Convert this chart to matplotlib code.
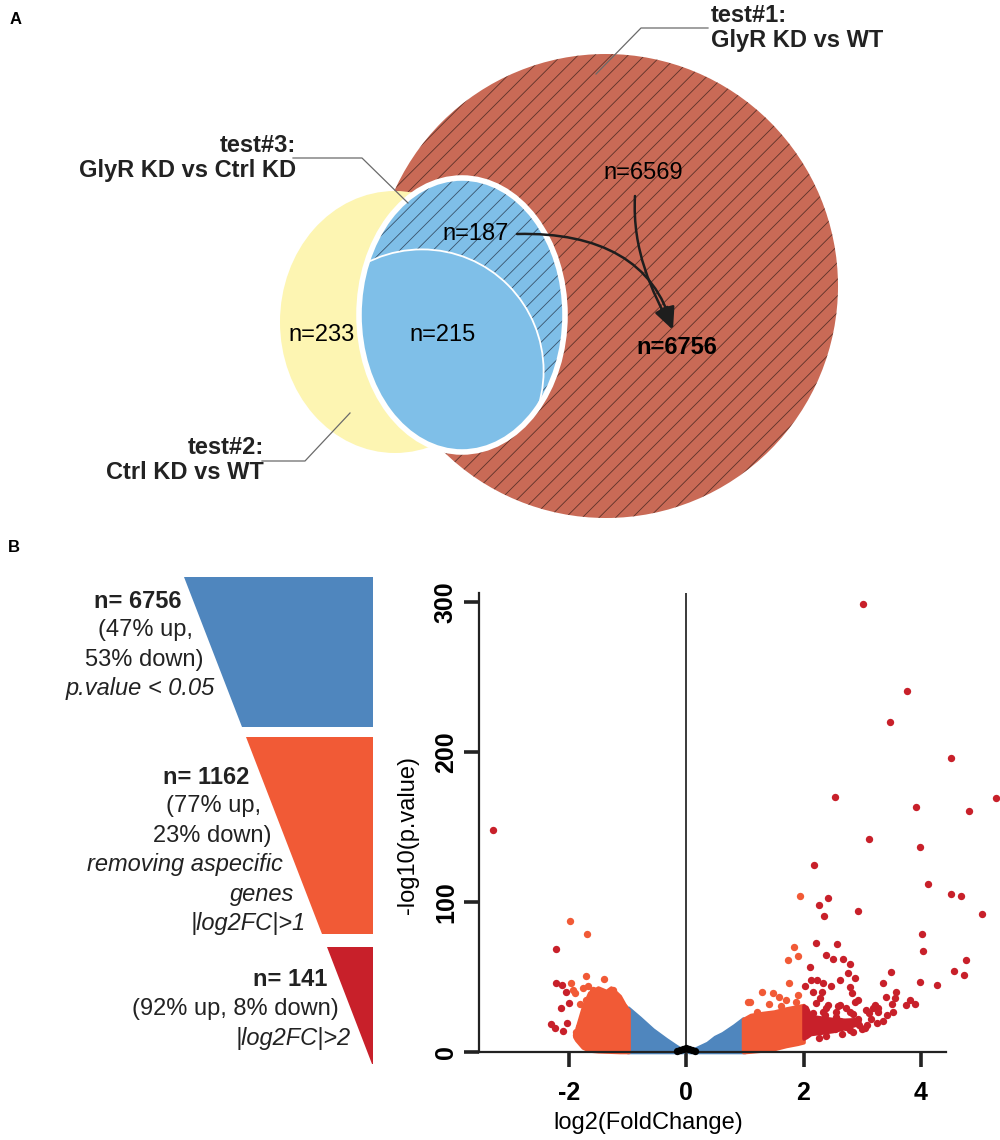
import matplotlib
matplotlib.use("Agg")
import matplotlib.pyplot as plt
from matplotlib import font_manager
from matplotlib.patches import Circle, Ellipse, Polygon, FancyArrowPatch
from matplotlib.path import Path


# ── Data ──────────────────────────────────────────────────────────────────────

# panel A: overlap of the three DE tests
venn_titles = ["test#1:\nGlyR KD vs WT", "test#2:\nCtrl KD vs WT", "test#3:\nGlyR KD vs Ctrl KD"]
n_test1_only = 6569
n_test2_only = 233
n_test2_test3 = 215
n_test1_test3 = 187
n_final = 6756

# panel B: filtering funnel
funnel_n = [6756, 1162, 141]
funnel_up = [47, 77, 92]
funnel_down = [53, 23, 8]
funnel_filter = ["p.value < 0.05", "removing aspecific\ngenes\n|log2FC|>1", "|log2FC|>2"]

# panel B: volcano plot, dense parts as envelopes (x, lower, upper)
blue_left_x = [-1.0, -0.99, -0.79, -0.57, -0.34, -0.17, -0.06]
blue_left_top = [29, 29.6, 22.9, 15.1, 8.5, 4, 1.3]
blue_right_x = [0.05, 0.16, 0.36, 0.49, 0.62, 0.82, 0.97, 1.0]
blue_right_top = [0.5, 2.3, 6, 10, 12.5, 17.8, 22.3, 22]

orange_left_x = [-1.90, -1.87, -1.76, -1.65, -1.50, -1.36, -1.28, -1.13, -1.02, -0.98]
orange_left_bot = [10, 8, 3, 1, 0.5, 0.3, 0.2, 0, 0, 0]
orange_left_top = [12, 15, 29.6, 39.6, 43, 40.7, 43, 37.4, 29.6, 28]

orange_right_x = [0.97, 1.0, 1.1, 1.3, 1.5, 1.7, 1.9, 2.0]
orange_right_bot = [0, 0, 0.3, 1, 2, 4, 5.5, 6.5]
orange_right_top = [22, 22.5, 24.7, 26, 27, 29, 30.5, 31.3]

red_right_x = [2.0, 2.05, 2.12, 2.3, 2.5, 2.7, 2.95]
red_right_bot = [9, 10, 12, 12.9, 14, 16, 19]
red_right_top = [31, 30, 24, 23, 22, 21.5, 22]

# single genes
zero_x = [-0.15, -0.1, -0.05, 0.0, 0.05, 0.1, 0.15]
zero_y = [0.6, 1.0, 1.8, 2.5, 1.8, 1.0, 0.6]

pts_orange_left_x = [-1.98, -1.69, -1.70, -1.39, -1.96, -1.93, -1.76, -1.67, -1.59, -1.50,
                     -1.42, -1.25, -1.19, -1.05, -1.70, -1.87, -1.77, -1.71, -1.80, -1.90,
                     -1.88, -1.82]
pts_orange_left_y = [87.5, 78.5, 51, 48.6, 46.3, 41.4, 42.5, 44.1, 41.4, 40.3,
                     36.9, 41.4, 36.9, 30.3, 34.7, 11.3, 19.5, 28, 31.9, 39.4,
                     13.6, 16.9]

pts_red_left_x = [-3.29, -2.21, -2.21, -2.11, -2.05, -2.00, -2.13, -2.30, -2.24, -2.10,
                  -2.03]
pts_red_left_y = [148, 69, 45.9, 44.8, 40.3, 32.9, 29.2, 18.7, 15.8, 14.2, 19.6]

pts_orange_right_x = [1.94, 1.83, 1.74, 1.91, 1.76, 1.30, 1.48, 1.05, 1.91, 1.59,
                      1.71, 1.08, 1.61, 1.41, 1.21, 1.87]
pts_orange_right_y = [104, 70, 61.5, 64.3, 45.9, 40.3, 39.2, 33.6, 38.1, 36.9,
                      34.7, 33.1, 30.7, 31.9, 26.9, 33.1]

pts_red_right_x = [3.02, 3.77, 3.48, 4.51, 2.53, 5.27, 3.92, 4.82, 3.11, 3.98,
                   2.17, 4.12, 4.51, 4.69, 2.41, 2.26, 2.35, 2.92, 5.04, 4.01,
                   4.04, 2.21, 2.57, 4.76, 2.39, 2.50, 2.67, 2.79, 2.11, 2.76,
                   3.49, 4.56, 4.74, 2.13, 2.23, 2.33, 2.62, 2.87, 2.02, 2.46,
                   2.80, 3.35, 3.98, 4.28, 2.16, 2.31, 2.83, 3.58, 2.28, 2.93,
                   3.41, 3.55, 2.21, 2.42, 2.62, 2.87, 3.21, 3.50, 3.81, 3.89,
                   3.75, 3.26, 2.39, 2.59, 2.72, 3.12, 3.27, 2.84, 2.36, 2.56,
                   3.15, 3.25, 2.95, 2.72, 2.33, 2.53, 2.79, 2.17, 3.05, 2.26,
                   2.39, 2.66, 2.85, 2.99, 3.35, 2.10, 2.23, 2.46, 2.62, 3.08,
                   2.92, 3.42, 3.52, 2.33, 2.56, 2.79, 3.07, 3.19, 2.16]
pts_red_right_y = [299, 241, 220, 196.5, 170, 169.3, 163.8, 160.8, 142, 137,
                   124.5, 112, 105.7, 104.2, 102.7, 98.2, 91, 94.2, 92.2, 78.6,
                   67.5, 73, 72.1, 61.7, 64.8, 61.9, 61.9, 58.8, 57, 52.6,
                   53.2, 53.8, 51.3, 48.1, 48.1, 45.9, 48.1, 49.2, 44.3, 44.3,
                   43.6, 45.9, 46.8, 44.8, 40.3, 40.3, 39.2, 39.9, 35.9, 34.7,
                   36.9, 35.9, 32.5, 31.4, 31.4, 33.6, 31.4, 32.1, 34.7, 31.9,
                   31.4, 29.4, 29.4, 30.7, 29.4, 26.2, 26.9, 25.2, 24.5, 23.2,
                   22.0, 19.5, 18.3, 17.0, 17.0, 15.3, 14.5, 18.3, 15.8, 9.6,
                   10.8, 12.0, 13.3, 15.3, 20.7, 23.2, 20.7, 19.5, 20.7, 18.3,
                   22.0, 24.5, 26.9, 26.9, 26.9, 26.9, 28.1, 29.2, 25.8]


# ── Style ─────────────────────────────────────────────────────────────────────

def has_font(name):
    try:
        font_manager.findfont(font_manager.FontProperties(family=name),
                              fallback_to_default=False)
        return True
    except ValueError:
        return False


plt.rcParams["font.family"] = ["Liberation Sans", "DejaVu Sans"]
plt.rcParams["hatch.linewidth"] = 0.6
plt.rcParams["axes.unicode_minus"] = False
NARROW = "Liberation Sans Narrow" if has_font("Liberation Sans Narrow") else "Liberation Sans"

C_RED_VENN = "#c96a56"
C_YELLOW = "#fdf5b2"
C_LBLUE = "#7fbfe8"
C_BLUE = "#4f86be"
C_ORANGE = "#f15a36"
C_RED = "#c8202a"

fig = plt.figure(figsize=(10, 11.4), dpi=100)

# pixel-space canvas for panel A and the funnel
ax0 = fig.add_axes([0, 0, 1, 1])
ax0.set_xlim(0, 1000)
ax0.set_ylim(1140, 0)
ax0.axis("off")

ax0.text(10, 19, "A", fontsize=12, fontweight="bold", va="center")
ax0.text(8, 547, "B", fontsize=12, fontweight="bold", va="center")

# ── Panel A: Venn ─────────────────────────────────────────────────────────────

hatch_col = (0.22, 0.12, 0.10, 0.75)
blue_geo = dict(xy=(462, 315), width=206, height=274, angle=0)
red = Circle((606, 286), 232, fc=C_RED_VENN, ec="none", zorder=1)
red_h = Circle((606, 286), 232, fc="none", ec=hatch_col, lw=0, hatch="//", zorder=1.1)
yellow = Ellipse((395, 322), 230, 262, fc=C_YELLOW, ec="none", zorder=2)
blue = Ellipse(**blue_geo, fc=C_LBLUE, ec="none", zorder=3)
blue_h = Ellipse(**blue_geo, fc="none", ec=(0.15, 0.22, 0.3, 0.8), lw=0,
                 hatch="//", zorder=3.1)
for p in (red, red_h, yellow, blue, blue_h):
    ax0.add_patch(p)

solid = Circle((422, 371), 121.6, fc=C_LBLUE, ec="white", lw=1.3, zorder=3.2)
ax0.add_patch(solid)
solid.set_clip_path(blue)
ax0.add_patch(Ellipse(**blue_geo, fc="none", ec="white", lw=4, zorder=3.3))

# leader lines + titles
lead_col = "#6a6a6a"
ax0.plot([708, 641, 596], [28, 28, 74], color=lead_col, lw=0.9, zorder=5)
ax0.plot([293, 362, 408], [158, 158, 203], color=lead_col, lw=0.9, zorder=5)
ax0.plot([262, 305, 350], [461, 461, 413], color=lead_col, lw=0.9, zorder=5)
ax0.text(711, 28, venn_titles[0], fontsize=17, fontweight="bold", ha="left",
         va="center", linespacing=1.15, color="#222222")
ax0.text(296, 158, venn_titles[2], fontsize=17, fontweight="bold", ha="right",
         va="center", multialignment="right", linespacing=1.15, color="#222222")
ax0.text(264, 460, venn_titles[1], fontsize=17, fontweight="bold", ha="right",
         va="center", multialignment="right", linespacing=1.15, color="#222222")

ax0.text(322, 335, f"n={n_test2_only}", fontsize=17, ha="center", va="center", zorder=6)
ax0.text(443, 335, f"n={n_test2_test3}", fontsize=17, ha="center", va="center", zorder=6)
ax0.text(476, 234, f"n={n_test1_test3}", fontsize=17, ha="center", va="center", zorder=6)
ax0.text(643, 173, f"n={n_test1_only}", fontsize=17, ha="center", va="center", zorder=6)
ax0.text(677, 348, f"n={n_final}", fontsize=17, fontweight="bold", ha="center",
         va="center", zorder=6)

tip = (673, 330)
arrow_paths = [
    [(517, 234), (600, 232), (655, 262), tip],
    [(635, 196), (632, 250), (652, 292), tip],
]
for verts in arrow_paths:
    path = Path(verts, [Path.MOVETO, Path.CURVE4, Path.CURVE4, Path.CURVE4])
    ax0.add_patch(FancyArrowPatch(path=path, arrowstyle="-|>,head_length=0.85,head_width=0.28",
                                  mutation_scale=16, lw=1.8, color="#1e1e1e", zorder=6))

# ── Panel B: funnel ───────────────────────────────────────────────────────────

f_top, f_right, f_left0, f_slope = 577, 373, 184, 0.386
band_tops = [577, 737, 947]
band_bots = [727, 934, 1064]
band_cols = [C_BLUE, C_ORANGE, C_RED]


def edge(y):
    return f_left0 + f_slope * (y - f_top)


for y0, y1, c in zip(band_tops, band_bots, band_cols):
    ax0.add_patch(Polygon([(edge(y0), y0), (f_right, y0), (f_right, y1), (edge(y1), y1)],
                          closed=True, fc=c, ec="none"))

first_line = [601, 777, 980]
line_h = 29.3
for i, n in enumerate(funnel_n):
    lines = [(f"n= {n}", "bold", "normal")]
    if i < 2:
        lines += [(f"({funnel_up[i]}% up,", "normal", "normal"),
                  (f"{funnel_down[i]}% down)", "normal", "normal")]
    else:
        lines += [(f"({funnel_up[i]}% up, {funnel_down[i]}% down)", "normal", "normal")]
    lines += [(s, "normal", "italic") for s in funnel_filter[i].split("\n")]
    for k, (s, w, st) in enumerate(lines):
        y = first_line[i] + k * line_h
        ax0.text(edge(y) - 12, y, s, fontsize=17, fontweight=w, fontstyle=st,
                 ha="right", va="center", color="#222222")

# ── Panel B: volcano ──────────────────────────────────────────────────────────

ax = fig.add_axes([0.4788, 0.0772, 0.5185, 0.4022])
ax.patch.set_alpha(0)
ax.set_xlim(-3.53, 5.3)
ax.set_ylim(0, 306)

env_kw = dict(lw=2.6, joinstyle="round", clip_on=False, zorder=2)
ax.fill_between(blue_left_x, 0, blue_left_top, color=C_BLUE, **env_kw)
ax.fill_between(blue_right_x, 0, blue_right_top, color=C_BLUE, **env_kw)
ax.fill_between(orange_left_x, orange_left_bot, orange_left_top, color=C_ORANGE, **env_kw)
ax.fill_between(orange_right_x, orange_right_bot, orange_right_top, color=C_ORANGE, **env_kw)
ax.fill_between(red_right_x, red_right_bot, red_right_top, color=C_RED, **env_kw)

dot_kw = dict(s=28, linewidths=0, clip_on=False, zorder=3)
ax.scatter(pts_orange_left_x, pts_orange_left_y, color=C_ORANGE, **dot_kw)
ax.scatter(pts_orange_right_x, pts_orange_right_y, color=C_ORANGE, **dot_kw)
ax.scatter(pts_red_left_x, pts_red_left_y, color=C_RED, **dot_kw)
ax.scatter(pts_red_right_x, pts_red_right_y, color=C_RED, **dot_kw)
ax.scatter(zero_x, zero_y, color="black", **dot_kw)

ax.axvline(0, color="#3a3a3a", lw=1.4, zorder=1)

for s in ("top", "right"):
    ax.spines[s].set_visible(False)
for s in ("left", "bottom"):
    ax.spines[s].set_linewidth(1.6)
    ax.spines[s].set_color("#222222")
ax.spines["bottom"].set_bounds(-3.53, 4.42)

ax.set_xticks([-2, 0, 2, 4])
ax.set_yticks([0, 100, 200, 300])
ax.tick_params(length=11, width=2.6, color="#222222", pad=4)
ax.tick_params(axis="x", pad=10)
ax.tick_params(axis="y", labelrotation=90)
for t in ax.get_xticklabels() + ax.get_yticklabels():
    t.set_fontfamily(NARROW)
    t.set_fontweight("bold")
    t.set_fontsize(18)
for t in ax.get_yticklabels():
    t.set_va("center")

ax.set_xlabel("log2(FoldChange)", fontsize=17, va="center")
ax.set_ylabel("-log10(p.value)", fontsize=17, va="center")
ax.xaxis.set_label_coords(0.326, -0.155)
ax.yaxis.set_label_coords(-0.1365, 0.473)

fig.savefig("out.png", dpi=100)
